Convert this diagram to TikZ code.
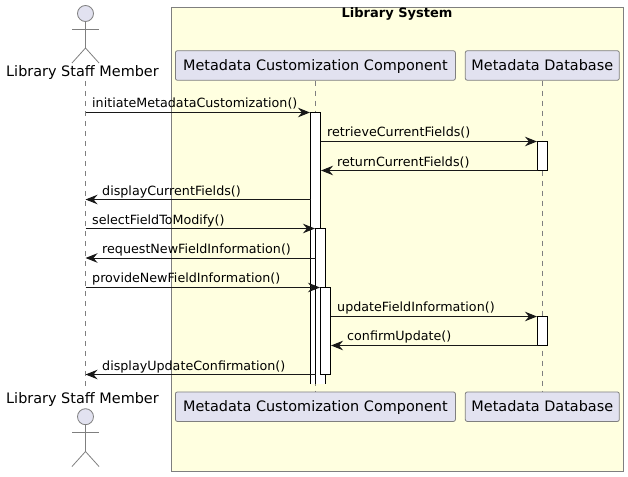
\documentclass[tikz,border=0pt]{standalone}
\usepackage{fontspec}
\setmainfont{DejaVu Sans}
\usepackage{xcolor}
\usepackage{tikz}
\usetikzlibrary{arrows.meta,positioning}
\definecolor{boxyellow}{HTML}{FFFFE0}
\definecolor{partblue}{HTML}{E2E2F0}
\definecolor{edgegray}{HTML}{7F7F7F}
\definecolor{inkdark}{HTML}{181818}
\tikzset{
  part/.style={rectangle, draw=edgegray, fill=partblue, rounded corners=2pt, line width=.8pt, minimum height=29.5pt, inner sep=0pt, text height=13pt, text depth=3pt, font=\fontsize{14.43}{14.43}\selectfont},
  actorname/.style={inner sep=0pt, minimum height=16pt, font=\fontsize{14.43}{14.43}\selectfont},
  actorhead/.style={circle, draw=edgegray, fill=partblue, line width=.8pt, minimum size=16pt, inner sep=0pt},
  limb/.style={draw=edgegray, line width=.8pt},
  lifeline/.style={draw=edgegray, line width=.8pt, dash pattern=on 5pt off 5pt},
  bar/.style={rectangle, draw=black, fill=white, line width=1pt, minimum width=10pt, inner sep=0pt},
  msg/.style={draw=inkdark, line width=1pt, -{Stealth[length=12pt,width=9.5pt,inset=4pt]}},
  msglabel/.style={anchor=base west, inner sep=0pt, text=black, font=\fontsize{12.7}{12.7}\selectfont}
}
\begin{document}
\begin{tikzpicture}[x=1pt, y=-1pt]
  \useasboundingbox (0,0) rectangle (628,476);
  % system frame
  \node[rectangle, draw=edgegray, fill=boxyellow, line width=.8pt, minimum width=452pt, minimum height=464pt, inner sep=0pt] (system) at (397.5,239) {};
  \node[inner sep=0pt, font=\bfseries\fontsize{13}{13}\selectfont] (systemname) at (397,14) {Library System};

  % participants
  \node[actorname] (stafftop) at (82.5,73) {Library Staff Member};
  \node[actorname] (staffbot) at (82.5,400) {Library Staff Member};
  \node[part, minimum width=280pt] (comptop) at (315.4,65.5) {Metadata Customization Component};
  \node[part, minimum width=154pt] (dbtop) at (542.3,65.5) {Metadata Database};
  \node[part, minimum width=280pt] (compbot) at (315.4,406.7) {Metadata Customization Component};
  \node[part, minimum width=154pt] (dbbot) at (542.3,406.7) {Metadata Database};

  % actor figures
  \node[actorhead] (headtop) at (85.5,13.5) {};
  \coordinate (hipstop) at (85.5,48);
  \coordinate (armltop) at (72,29);
  \coordinate (armrtop) at (99,29);
  \coordinate (legltop) at (72,63);
  \coordinate (legrtop) at (99,63);
  \draw[limb] (headtop.south) -- (hipstop);
  \draw[limb] (armltop) -- (armrtop);
  \draw[limb] (legltop) -- (hipstop) -- (legrtop);
  \node[actorhead] (headbot) at (85.5,416.7) {};
  \coordinate (hipsbot) at (85.5,451.5);
  \coordinate (armlbot) at (72,432);
  \coordinate (armrbot) at (99,432);
  \coordinate (leglbot) at (72,466.5);
  \coordinate (legrbot) at (99,466.5);
  \draw[limb] (headbot.south) -- (hipsbot);
  \draw[limb] (armlbot) -- (armrbot);
  \draw[limb] (leglbot) -- (hipsbot) -- (legrbot);

  % lifelines
  \coordinate (stafftail) at (85.5,81);
  \coordinate (staffend) at (85.5,390);
  \draw[lifeline] (stafftail) -- (staffend);
  \draw[lifeline] (comptop.south) -- (compbot.north);
  \draw[lifeline] (dbtop.south) -- (dbbot.north);

  % activations
  \coordinate (baraa) at (310.5,112.5);
  \coordinate (barab) at (320.5,112.5);
  \coordinate (barac) at (310.5,384);
  \coordinate (barad) at (320.5,384);
  \fill[white] (baraa) rectangle (barad);
  \draw[black, line width=1pt] (barac) -- (baraa) -- (barab) -- (barad);
  \coordinate (barba) at (315.5,228.5);
  \coordinate (barbb) at (325.5,228.5);
  \coordinate (barbc) at (315.5,384);
  \coordinate (barbd) at (325.5,384);
  \fill[white] (barba) rectangle (barbd);
  \draw[black, line width=1pt] (barbc) -- (barba) -- (barbb) -- (barbd);
  \node[bar, minimum height=87pt] (barc) at (325.5,331) {};
  \node[bar, minimum height=29pt] (dbbara) at (542.5,156) {};
  \node[bar, minimum height=29pt] (dbbarb) at (542.5,331) {};

  % messages
  \coordinate (maa) at (85.5,112.5);
  \coordinate (mab) at (310,112.5);
  \draw[msg] (maa) -- (mab);
  \node[msglabel] (la) at (92,107) {initiateMetadataCustomization()};
  \coordinate (mba) at (320.5,141.5);
  \coordinate (mbb) at (537,141.5);
  \draw[msg] (mba) -- (mbb);
  \node[msglabel] (lb) at (327,136) {retrieveCurrentFields()};
  \coordinate (mca) at (537.5,170.5);
  \coordinate (mcb) at (321,170.5);
  \draw[msg] (mca) -- (mcb);
  \node[msglabel] (lc) at (337,166) {returnCurrentFields()};
  \coordinate (mda) at (310.5,199.5);
  \coordinate (mdb) at (85.5,199.5);
  \draw[msg] (mda) -- (mdb);
  \node[msglabel] (ld) at (102,195) {displayCurrentFields()};
  \coordinate (mea) at (85.5,228.5);
  \coordinate (meb) at (315,228.5);
  \draw[msg] (mea) -- (meb);
  \node[msglabel] (le) at (92,224) {selectFieldToModify()};
  \coordinate (mfa) at (315.5,258);
  \coordinate (mfb) at (85.5,258);
  \draw[msg] (mfa) -- (mfb);
  \node[msglabel] (lf) at (102,253) {requestNewFieldInformation()};
  \coordinate (mga) at (85.5,287.5);
  \coordinate (mgb) at (320,287.5);
  \draw[msg] (mga) -- (mgb);
  \node[msglabel] (lg) at (92,282) {provideNewFieldInformation()};
  \coordinate (mha) at (330.5,316.5);
  \coordinate (mhb) at (537,316.5);
  \draw[msg] (mha) -- (mhb);
  \node[msglabel] (lh) at (337,311) {updateFieldInformation()};
  \coordinate (mia) at (537.5,345.5);
  \coordinate (mib) at (331,345.5);
  \draw[msg] (mia) -- (mib);
  \node[msglabel] (li) at (347,340) {confirmUpdate()};
  \coordinate (mja) at (315.5,374.5);
  \coordinate (mjb) at (85.5,374.5);
  \draw[msg] (mja) -- (mjb);
  \node[msglabel] (lj) at (102,370) {displayUpdateConfirmation()};
\end{tikzpicture}
\end{document}
